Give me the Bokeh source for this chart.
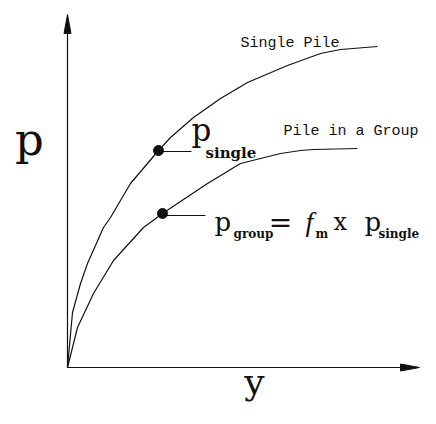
from bokeh.plotting import figure
from bokeh.models import Range1d
from bokeh.core.properties import value
from bokeh.embed import file_html
from bokeh.resources import INLINE

# ---- data (displacement y, load p) ----
single_y = [0, 5, 13, 20, 36, 43, 63, 91, 103, 126, 153, 180, 220, 253, 273, 310]
single_p = [0, 55, 84, 104, 140, 150, 184, 217, 230, 250, 269, 285, 302, 314, 318, 321]
group_y = [0, 10, 26, 46, 76, 95, 140, 173, 213, 233, 246, 290]
group_p = [0, 40, 74, 107, 140, 154, 184, 204, 214, 217, 218, 219]

dot_y = [91, 95]
dot_p = [217, 154]

curve_labels = ["Single Pile", "Pile in a Group"]
curve_label_x = [173, 216]
curve_label_y = [320, 232]

x_end = 352
y_end = 353

INK = "#111111"

p = figure(width=420, height=408, x_range=Range1d(-67, 353), y_range=Range1d(-41, 367),
           output_backend="svg", toolbar_location=None, x_axis_type=None, y_axis_type=None,
           min_border=0)
p.outline_line_color = None
p.background_fill_color = "white"

# axes with arrowheads
p.line([0, 0], [0, y_end - 10], line_color=INK, line_width=1.2)
p.line([0, x_end - 10], [0, 0], line_color=INK, line_width=1.2)
p.patch([-3.5, 0, 3.5], [y_end - 19, y_end, y_end - 19], fill_color=INK, line_color=INK)
p.patch([x_end - 19, x_end, x_end - 19], [3.5, 0, -3.5], fill_color=INK, line_color=INK)

# curves
p.line(single_y, single_p, line_color=INK, line_width=1.2)
p.line(group_y, group_p, line_color=INK, line_width=1.2)

# points and leaders
p.scatter(dot_y, dot_p, size=10, fill_color=INK, line_color=INK)
p.line([dot_y[0], 124], [216, 216], line_color=INK, line_width=1.1)
p.line([dot_y[1], 138], [152, 152], line_color=INK, line_width=1.1)

def txt(x, y, t, font, size, style="normal", align="left"):
    # small upward correction so the glyph baseline lands where intended
    p.text(x=[x], y=[y + 0.3 * size], text=[t], text_font=value(font),
           text_font_size=f"{size}px", text_font_style=style, text_align=align,
           text_baseline="alphabetic", text_color=INK)

# axis titles
txt(-38, 215, "p", "DejaVu Serif", 45, align="center")
txt(187, -25, "y", "DejaVu Serif", 36, align="center")

# curve labels
for t, x, y in zip(curve_labels, curve_label_x, curve_label_y):
    txt(x, y, t, "Liberation Mono", 15)

# p_single near dot
txt(124, 228, "p", "DejaVu Serif", 31)
txt(138, 210, "single", "DejaVu Serif", 15, style="bold")

# equation
txt(147, 138, "p", "DejaVu Serif", 26)
txt(166, 130, "group", "DejaVu Serif", 12, style="bold")
txt(213, 137, "=", "DejaVu Serif", 28, align="center")
txt(238, 138, "f", "Liberation Serif", 28, style="italic")
txt(248, 130, "m", "DejaVu Serif", 12, style="bold")
txt(266, 138, "x", "DejaVu Serif", 24)
txt(297, 138, "p", "DejaVu Serif", 26)
txt(311, 130, "single", "DejaVu Serif", 12, style="bold")

open("out.html", "w").write(file_html(p, INLINE))
